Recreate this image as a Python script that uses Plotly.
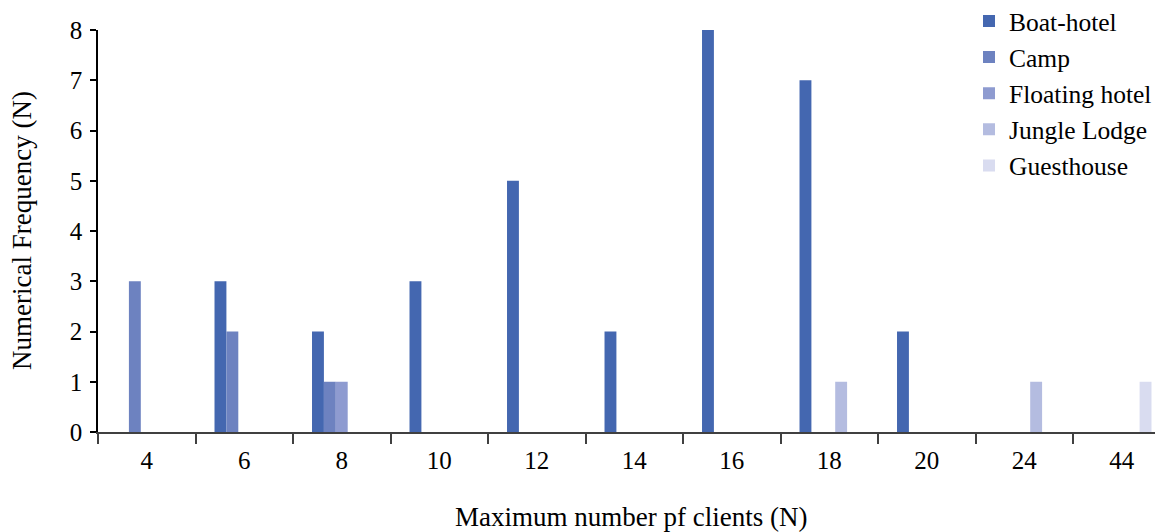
import plotly.graph_objects as go

categories = ["4", "6", "8", "10", "12", "14", "16", "18", "20", "24", "44"]
boat_hotel = [0, 3, 2, 3, 5, 2, 8, 7, 2, 0, 0]
camp = [3, 2, 1, 0, 0, 0, 0, 0, 0, 0, 0]
floating_hotel = [0, 0, 1, 0, 0, 0, 0, 0, 0, 0, 0]
jungle_lodge = [0, 0, 0, 0, 0, 0, 0, 1, 0, 1, 0]
guesthouse = [0, 0, 0, 0, 0, 0, 0, 0, 0, 0, 1]

series = [
    ("Boat-hotel", boat_hotel, "#4467B0"),
    ("Camp", camp, "#6D82C0"),
    ("Floating hotel", floating_hotel, "#8E9BD0"),
    ("Jungle Lodge", jungle_lodge, "#B4BCE0"),
    ("Guesthouse", guesthouse, "#D9DCF0"),
]

FONT = "Liberation Serif, Times New Roman, serif"

# the page body has an 8px margin, so the figure is sized/offset to compensate
W, H = 1155, 524
L, T, R, B = 90, 22, 0, 100

fig = go.Figure()
for name, vals, color in series:
    fig.add_trace(go.Bar(name=name, x=categories, y=vals, marker_color=color,
                         marker_line_width=0))

fig.update_layout(
    width=W, height=H,
    margin=dict(l=L, r=R, t=T, b=B, autoexpand=False),
    paper_bgcolor="white", plot_bgcolor="white",
    barmode="group", bargap=0.39, bargroupgap=0,
    font=dict(family=FONT, size=22, color="black"),
    showlegend=True,
    legend=dict(x=(961 - L) / (W - L), xanchor="left", y=1.080, yanchor="top",
                font=dict(family=FONT, size=25.5, color="black"),
                bgcolor="rgba(0,0,0,0)", itemwidth=30, tracegroupgap=0),
    annotations=[
        dict(text="Maximum number pf clients (N)", xref="paper", yref="paper",
             x=0.5, y=0, xanchor="center", yanchor="middle", yshift=-85,
             showarrow=False, font=dict(family=FONT, size=27, color="black")),
        dict(text="Numerical Frequency (N)", xref="paper", yref="paper",
             x=0, y=0.5, xanchor="center", yanchor="middle", xshift=-76,
             textangle=-90, showarrow=False, font=dict(family=FONT, size=27, color="black")),
    ],
)
fig.update_xaxes(
    type="category", range=[-0.5, 10.423], automargin=False,
    showline=True, linecolor="#404040", linewidth=1.5,
    ticks="outside", tickson="boundaries", ticklen=10, tickcolor="#404040", tickwidth=1.5,
    tickfont=dict(family=FONT, size=25), ticklabelstandoff=5,
    showgrid=False, zeroline=False,
)
fig.update_yaxes(
    range=[0, 8], dtick=1, tick0=0, automargin=False,
    showline=True, linecolor="black", linewidth=1.5,
    ticks="outside", ticklen=6, tickcolor="black", tickwidth=1.5,
    tickfont=dict(family=FONT, size=25), ticklabelstandoff=3,
    showgrid=False, zeroline=False,
)

fig.write_html("out.html")
